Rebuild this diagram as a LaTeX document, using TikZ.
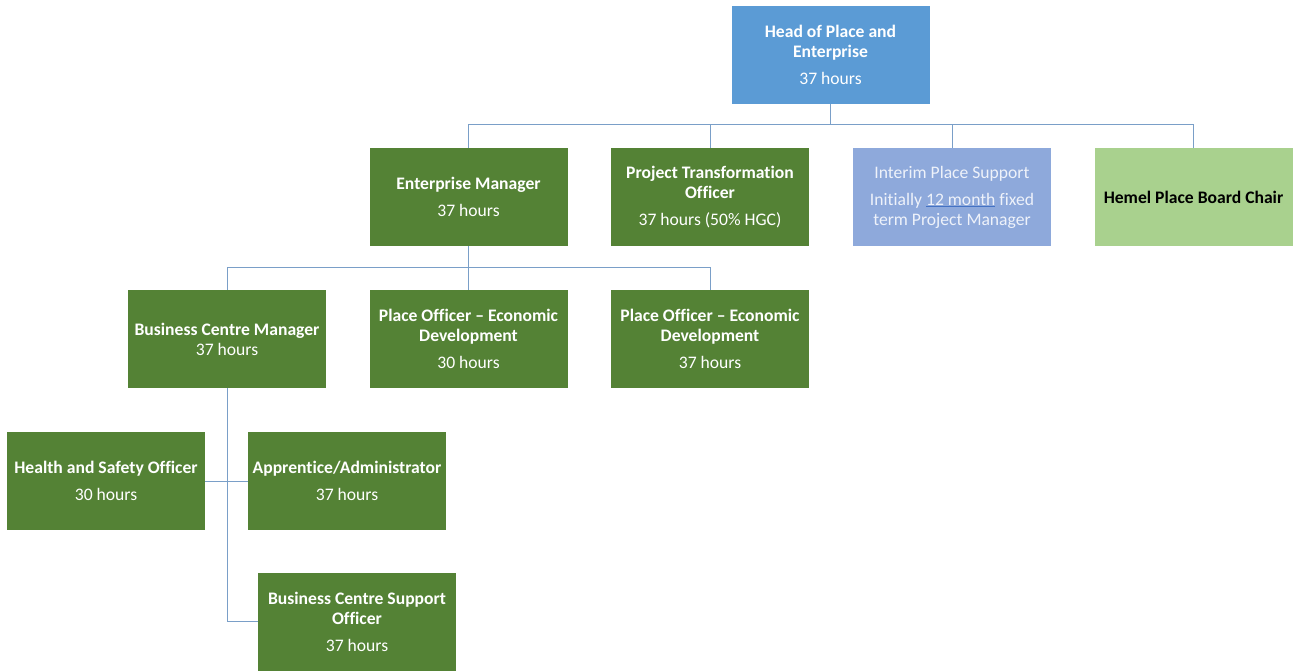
\documentclass[tikz,border=0pt]{standalone}
\usepackage{fontspec}
\setmainfont[Ligatures={NoCommon}]{Carlito}
\definecolor{dgreen}{HTML}{548235}
\definecolor{mblue}{HTML}{5B9BD5}
\definecolor{lblue}{HTML}{8EA9DB}
\definecolor{lgreen}{HTML}{A9D18E}
\definecolor{linec}{HTML}{7A9FC8}
\definecolor{ltext}{HTML}{EEF2FA}
\definecolor{ulc}{HTML}{4472C4}
\begin{document}
\begin{tikzpicture}[x=1pt,y=-1pt,
  box/.style={rectangle, minimum width=198pt, minimum height=98pt, inner sep=0pt,
    align=center, text=white, font=\fontsize{17.6}{20}\selectfont, fill=dgreen},
  conn/.style={draw=linec, line width=1pt}]
\useasboundingbox (0,0) rectangle (1295,670);
\node[box, fill=mblue] (head) at (830.5,55) {\textbf{Head of Place and}\\\textbf{Enterprise}\\[7pt]37 hours};
\node[box] (em) at (468.5,197) {\textbf{Enterprise Manager}\\[7pt]37 hours};
\node[box] (pto) at (710,197) {\textbf{Project Transformation}\\\textbf{Officer}\\[7pt]37 hours (50\% HGC)};
\node[box, fill=lblue, text=ltext] (ips) at (952,197) {Interim Place Support\\[7pt]Initially {\color{ulc}\underline{\color{ltext}12 month}} fixed\\term Project Manager};
\node[box, fill=lgreen, text=black] (hpbc) at (1193.5,197) {\textbf{Hemel Place Board Chair}};
\node[box] (bcm) at (227,339) {\textbf{Business Centre Manager}\\37 hours};
\node[box] (po1) at (468.5,339) {\textbf{Place Officer -- Economic}\\\textbf{Development}\\[7pt]30 hours};
\node[box] (po2) at (710,339) {\textbf{Place Officer -- Economic}\\\textbf{Development}\\[7pt]37 hours};
\node[box] (hs) at (106,481) {\textbf{Health and Safety Officer}\\[7pt]30 hours};
\node[box] (app) at (347,481) {\textbf{Apprentice/Administrator}\\[7pt]37 hours};
\node[box] (bcso) at (357,621.5) {\textbf{Business Centre Support}\\\textbf{Officer}\\[7pt]37 hours};
% connectors
\draw[conn] (head.south) -- ++(0,21);
\draw[conn] (em.north) -- ++(0,-23) -| (hpbc.north);
\draw[conn] (pto.north) -- ++(0,-23);
\draw[conn] (ips.north) -- ++(0,-23);
\draw[conn] (em.south) -- ++(0,22);
\draw[conn] (bcm.north) -- ++(0,-22) -| (po2.north);
\draw[conn] (po1.north) -- ++(0,-22);
\draw[conn] (bcm.south) |- (bcso.west);
\draw[conn] (hs.east) -- (app.west);
\end{tikzpicture}
\end{document}
